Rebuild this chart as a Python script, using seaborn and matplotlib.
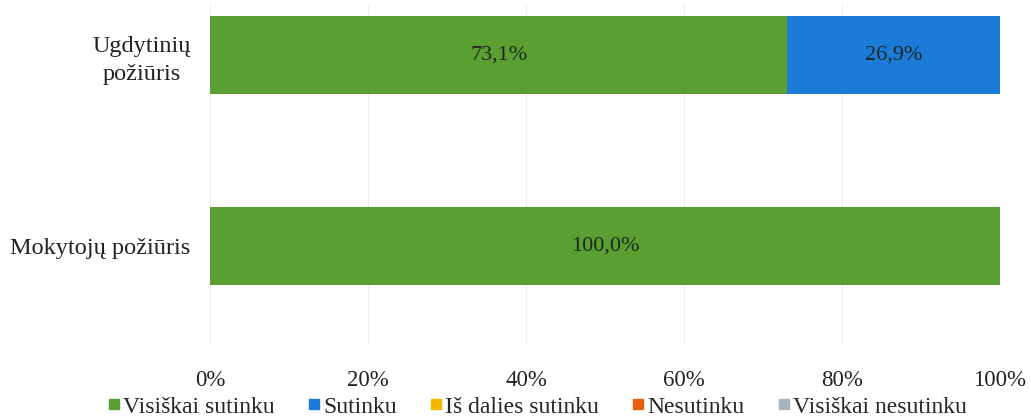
import matplotlib
matplotlib.use("Agg")
import matplotlib.pyplot as plt
from matplotlib.lines import Line2D
import seaborn as sns
import pandas as pd
import numpy as np

categories = ["Ugdytinių\npožiūris", "Mokytojų požiūris"]
series = ["Visiškai sutinku", "Sutinku", "Iš dalies sutinku", "Nesutinku", "Visiškai nesutinku"]
visiskai_sutinku = [73.1, 100.0]
sutinku = [26.9, 0.0]
is_dalies = [0.0, 0.0]
nesutinku = [0.0, 0.0]
visiskai_nesutinku = [0.0, 0.0]
colors = ["#5a9f32", "#1a7bd8", "#f5b800", "#e8600c", "#a9b3be"]
xticks = [0, 20, 40, 60, 80, 100]

values = [visiskai_sutinku, sutinku, is_dalies, nesutinku, visiskai_nesutinku]

sns.set_theme(style="white")
plt.rcParams["font.family"] = ["Liberation Serif", "DejaVu Serif"]

fig = plt.figure(figsize=(10.31, 4.16), dpi=100)
ax = fig.add_axes([210 / 1031, 1 - 345 / 416, (1000 - 210) / 1031, 340 / 416])

cum = np.cumsum(np.array(values), axis=0)
# draw from outermost cumulative to innermost so each segment shows
for i in range(len(series) - 1, -1, -1):
    df = pd.DataFrame({"cat": categories, "val": cum[i]})
    sns.barplot(data=df, y="cat", x="val", orient="h", color=colors[i],
                width=0.41, saturation=1, linewidth=0, ax=ax, zorder=2)

lefts = np.vstack([np.zeros(len(categories)), cum[:-1]])
for i in range(len(series)):
    for j in range(len(categories)):
        v = values[i][j]
        if v > 0:
            ax.text(lefts[i][j] + v / 2, j, f"{v:.1f}%".replace(".", ","),
                    ha="center", va="center", fontsize=16, color="#1e261e", zorder=3)

ax.set_xlim(0, 100)
ax.set_ylim(1.52, -0.26)
ax.set_xticks(xticks)
ax.set_xticklabels([f"{t}%" for t in xticks], fontsize=16.5, color="#222222")
ax.tick_params(axis="x", pad=18, length=0)
ax.tick_params(axis="y", labelsize=17.5, labelcolor="#222222", length=0, pad=14)
for lab in ax.get_yticklabels():
    lab.set_horizontalalignment("right")
    lab.set_multialignment("center")
    lab.set_linespacing(1.45)
ax.set_xlabel("")
ax.set_ylabel("")
ax.grid(axis="x", color="#ededed", linewidth=0.8, zorder=0)
ax.set_axisbelow(True)
for s in ax.spines.values():
    s.set_visible(False)

handles = [Line2D([0], [0], marker="s", linestyle="", markersize=7,
                  markerfacecolor=c, markeredgecolor=c) for c in colors]
fig.legend(handles, series, loc="lower center", bbox_to_anchor=(0.52, -0.055), ncol=5,
           frameon=False, fontsize=17, handletextpad=0.05, columnspacing=1.3,
           handlelength=0.7)

fig.savefig("out.png", dpi=100)
